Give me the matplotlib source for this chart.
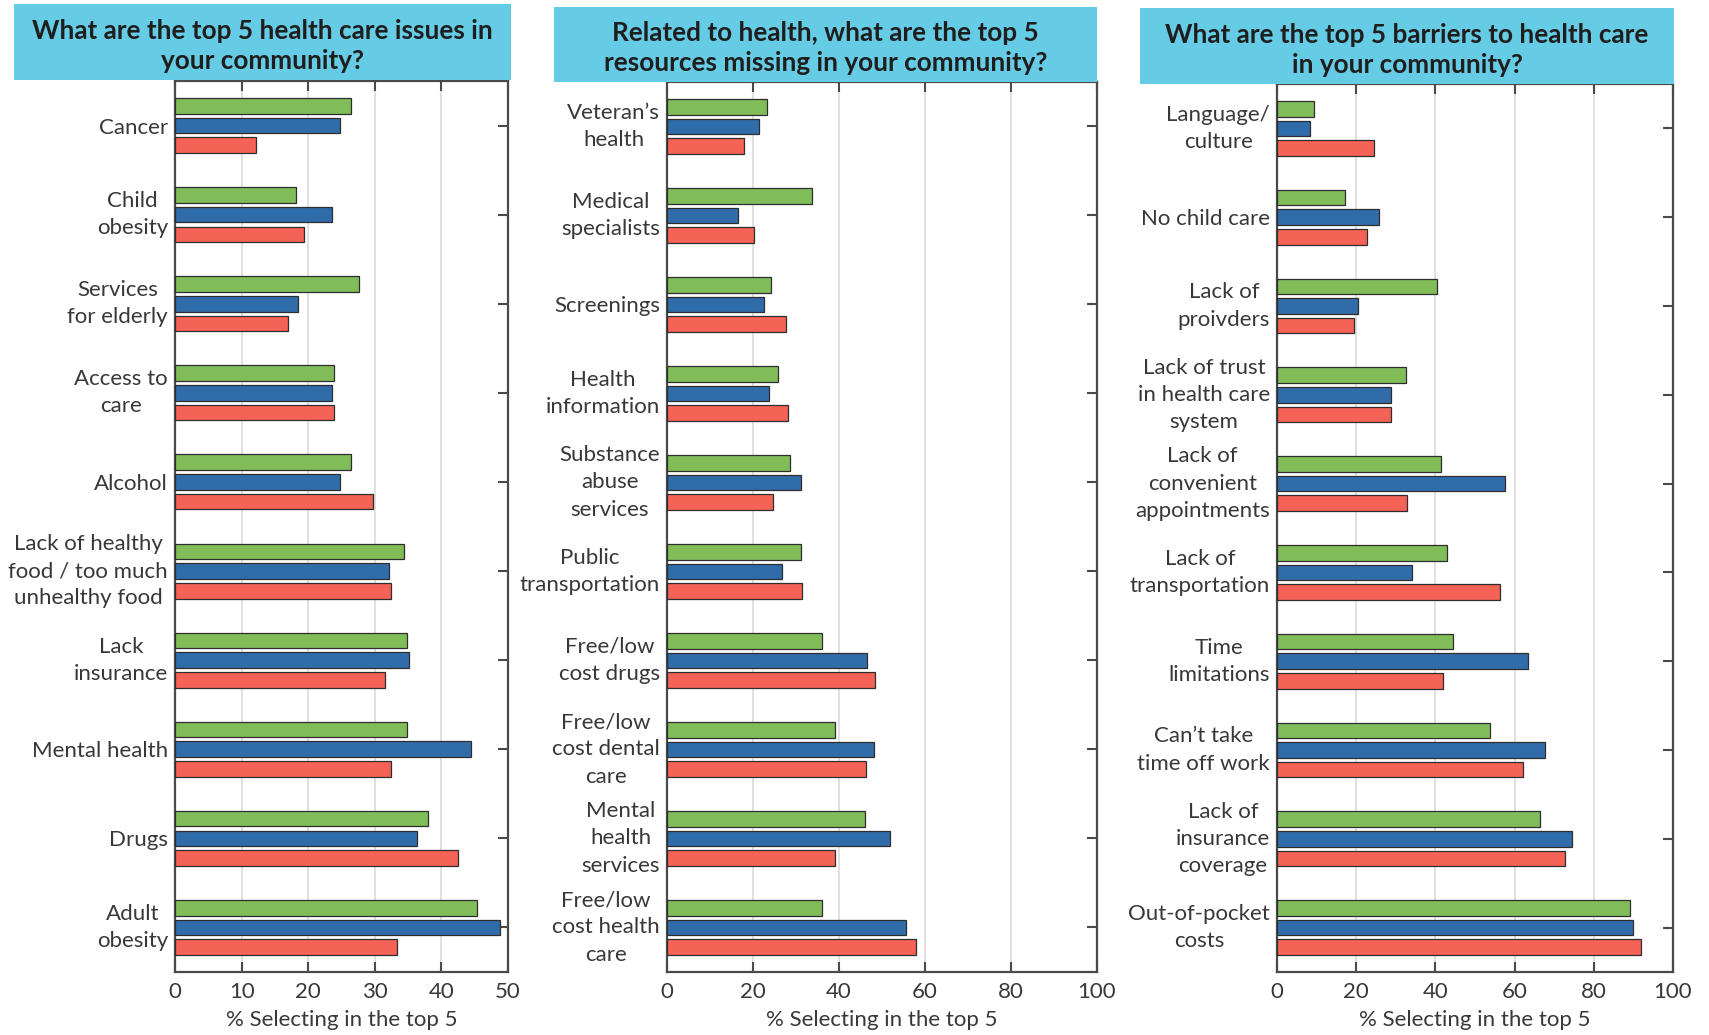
import matplotlib
matplotlib.use("Agg")
import matplotlib.pyplot as plt
from matplotlib.patches import Rectangle
import numpy as np

plt.rcParams['font.family'] = ['Lato', 'DejaVu Sans']

# ---------------- data ----------------
titles = [
    "What are the top 5 health care issues in\nyour community?",
    "Related to health, what are the top 5\nresources missing in your community?",
    "What are the top 5 barriers to health care\nin your community?",
]

issues_labels = ["Cancer", "Child\nobesity", "Services\nfor elderly", "Access to\ncare", "Alcohol",
                 "Lack of healthy\nfood / too much\nunhealthy food", "Lack\ninsurance", "Mental health",
                 "Drugs", "Adult\nobesity"]
issues_green = [26.5, 18.2, 27.6, 23.9, 26.5, 34.4, 34.9, 34.9, 38.0, 45.3]
issues_blue = [24.7, 23.5, 18.5, 23.5, 24.7, 32.1, 35.2, 44.4, 36.4, 48.8]
issues_red = [12.2, 19.4, 16.9, 23.8, 29.7, 32.5, 31.6, 32.5, 42.5, 33.4]

resources_labels = ["Veteran\u2019s\nhealth", "Medical\nspecialists", "Screenings", "Health\ninformation",
                    "Substance\nabuse\nservices", "Public\ntransportation", "Free/low\ncost drugs",
                    "Free/low\ncost dental\ncare", "Mental\nhealth\nservices", "Free/low\ncost health\ncare"]
resources_green = [23.3, 33.8, 24.3, 25.9, 28.6, 31.2, 36.0, 39.1, 46.0, 36.0]
resources_blue = [21.3, 16.5, 22.6, 23.8, 31.2, 26.8, 46.4, 48.2, 51.9, 55.5]
resources_red = [18.0, 20.2, 27.6, 28.2, 24.7, 31.5, 48.4, 46.2, 39.1, 57.8]

barriers_labels = ["Language/\nculture", "No child care", "Lack of\nproivders",
                   "Lack of trust\nin health care\nsystem", "Lack of\nconvenient\nappointments",
                   "Lack of\ntransportation", "Time\nlimitations", "Can\u2019t take\ntime off work",
                   "Lack of\ninsurance\ncoverage", "Out-of-pocket\ncosts"]
barriers_green = [9.3, 17.2, 40.4, 32.7, 41.4, 43.0, 44.5, 53.9, 66.4, 89.2]
barriers_blue = [8.4, 25.8, 20.5, 28.8, 57.6, 34.2, 63.5, 67.7, 74.4, 89.9]
barriers_red = [24.5, 22.7, 19.5, 28.9, 32.8, 56.3, 41.9, 62.2, 72.8, 92.0]

xticks_issues = [0, 10, 20, 30, 40, 50]
xticks_pct = [0, 20, 40, 60, 80, 100]
xlabel = "% Selecting in the top 5"

# ---------------- style ----------------
GREEN = "#80BD58"
BLUE = "#316CAA"
RED = "#F56256"
CYAN = "#66CBE4"
SPINE = "#4a4a4a"
TXT = "#383838"
FS = 16

W, H = 1709, 1035
fig = plt.figure(figsize=(W / 100, H / 100), dpi=100)

def fx(px):
    return px / W

def fy(py):
    return 1 - py / H

panels = [
    dict(ax=(175, 508, 81, 972), box=(14, 511, 4, 80), labels=issues_labels,
         g=issues_green, b=issues_blue, r=issues_red, xt=xticks_issues, xmax=50),
    dict(ax=(667, 1097, 82, 972), box=(554, 1097, 7, 82), labels=resources_labels,
         g=resources_green, b=resources_blue, r=resources_red, xt=xticks_pct, xmax=100),
    dict(ax=(1277, 1673, 84, 972), box=(1140, 1674, 8, 84), labels=barriers_labels,
         g=barriers_green, b=barriers_blue, r=barriers_red, xt=xticks_pct, xmax=100),
]

pitch = 0.221
bh = 0.176

for p, title in zip(panels, titles):
    l, r_, t, b_ = p["ax"]
    ax = fig.add_axes([fx(l), fy(b_), fx(r_) - fx(l), fy(t) - fy(b_)])
    y = np.arange(len(p["labels"]))
    for off, vals, col in [(-pitch, p["g"], GREEN), (0, p["b"], BLUE), (pitch, p["r"], RED)]:
        ax.barh(y + off, vals, height=bh, color=col, edgecolor="#2e2e2e", linewidth=0.9, zorder=3)
    ax.set_ylim(len(p["labels"]) - 0.5, -0.5)
    ax.set_xlim(0, p["xmax"])
    ax.set_xticks(p["xt"])
    ax.set_xticklabels([str(v) for v in p["xt"]])
    ax.set_yticks(y)
    ax.set_yticklabels(p["labels"], multialignment="center", linespacing=1.45)
    for lab in ax.get_yticklabels():
        if "\n" in lab.get_text():
            lab.set_verticalalignment("center")
    ax.grid(axis="x", color="#e0e0e0", linewidth=1.4, zorder=0)
    ax.set_axisbelow(True)
    for s in ax.spines.values():
        s.set_color(SPINE)
        s.set_linewidth(1.6)
    ax.tick_params(axis="both", direction="in", length=7, width=1.5, color=SPINE,
                   labelsize=FS, labelcolor=TXT, top=True, right=True)
    ax.tick_params(axis="x", pad=7.5)
    ax.tick_params(axis="y", pad=5)
    ax.set_xlabel(xlabel, fontsize=FS, color=TXT, labelpad=5.5)

    bl, br, bt, bb = p["box"]
    rect = Rectangle((fx(bl), fy(bb)), fx(br) - fx(bl), fy(bt) - fy(bb), transform=fig.transFigure,
                     facecolor=CYAN, edgecolor="none", zorder=5)
    fig.patches.append(rect)
    fig.text((fx(bl) + fx(br)) / 2, (fy(bt) + fy(bb)) / 2 - 0.0035, title, ha="center", va="center",
             fontsize=18.8, fontweight="bold", color="#1e1e1e", linespacing=1.3, zorder=6)

fig.savefig("out.png", dpi=100)
